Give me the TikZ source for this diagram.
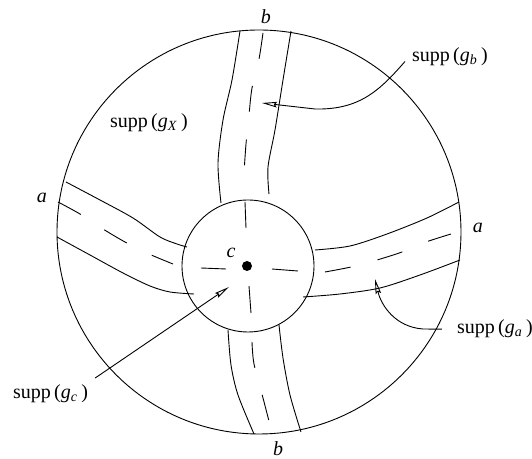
\documentclass[tikz,border=0pt]{standalone}
\usepackage{fontspec}
\setmainfont{Liberation Serif}
\usetikzlibrary{arrows.meta}
\newcommand{\suppof}[1]{supp\,(\textit{g}\textsubscript{\textit{#1}}\,)}

\begin{document}
\begin{tikzpicture}[
    x=0.5pt, y=-0.5pt,
    every node/.style={font=\fontsize{10}{12}\selectfont},
    edge/.style={line width=0.45pt},
    centre/.style={line width=0.45pt, dash pattern=on 13pt off 14pt},
    pointer/.style={line width=0.45pt, -{Stealth[open, length=7.5pt, width=2.8pt, inset=1pt]}},
    lab/.style={anchor=base west}
]
\useasboundingbox (0,0) rectangle (532,459);

% Define the outer disc, the inner disc and the centre point
\draw[edge] (259,232) circle (101pt);
\draw[edge] (248,266) circle (33pt);
\fill (247,266) circle (2.5pt);

% Top band
\draw[edge] plot[smooth] coordinates {(240,31) (232,80) (223,120) (218,163) (221,203)};
\draw[edge] plot[smooth] coordinates {(291,31) (283,80) (275,130) (268,167) (269,194)};
\draw[centre] plot[smooth] coordinates {(263,33) (259,59) (252,88) (249,115) (246,144) (244,173)};

% Bottom band
\draw[edge] plot[smooth] coordinates {(228,330) (231,365) (238,395) (254,434)};
\draw[edge] plot[smooth] coordinates {(279,325) (283,358) (290,395) (301,432)};
\draw[centre] plot[smooth] coordinates {(252,342) (254,364) (263,398) (270,425)};

% Left band
\draw[edge] plot[smooth] coordinates {(66,182) (100,200) (133,218) (160,237) (177,244) (187,247)};
\draw[edge] plot[smooth] coordinates {(57,237) (90,255) (123,273) (150,286) (170,292) (194,294)};
\draw[centre] plot[smooth] coordinates {(58,202) (80,214) (103,229) (125,242) (149,254) (173,264)};

% Right band
\draw[edge] plot[smooth] coordinates {(315,250) (350,246) (387,234) (427,218) (459,202)};
\draw[edge] plot[smooth] coordinates {(303,297) (340,294) (380,288) (420,275) (460,260)};
\draw[centre] plot[smooth] coordinates {(325,272) (351,267) (377,260) (402,252) (426,242) (451,234)};

% Cross inside the inner disc
\draw[edge] (245,202) -- (246,228);
\draw[edge] (249,286) -- (251,313);
\draw[edge] (201,268) -- (226,269);
\draw[edge] (272,269) -- (298,271);

% Ends of the bands and the centre
\node (bt) at (266,17) {\textit{b}};
\node (bb) at (278,449) {\textit{b}};
\node (al) at (42,198) {\textit{a}};
\node (ar) at (478,228) {\textit{a}};
\node (c) at (231,253) {\textit{c}};

% Supports
\node[lab] (lx) at (103,128) {\suppof{X}};
\node[lab] (lb) at (405,61.5) {\suppof{b}};
\node[lab] (la) at (450,334) {\suppof{a}};
\node[lab] (lc) at (6,399) {\suppof{c}};

% Arrows to the supports
\coordinate (tb) at (262,103);
\coordinate (ta) at (375,279);
\coordinate (tc) at (229,287);
\draw[pointer] (lb.base west) .. controls (380,90) and (360,110) .. (315,109) -- (tb);
\draw[pointer] ([xshift=-4pt]la.west) -- (423,329) .. controls (395,327) and (381,305) .. (ta);
\draw[pointer] (lc.north east) -- (tc);

\end{tikzpicture}
\end{document}
